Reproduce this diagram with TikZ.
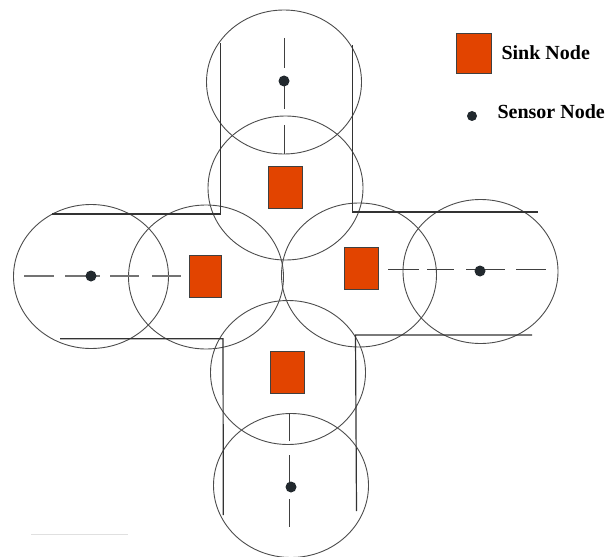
\documentclass[tikz,border=0pt]{standalone}
\usepackage{fontspec}
\setmainfont{Liberation Serif}
\newfontfamily\keyfont{Liberation Serif Bold}
\usepackage{tikz}
\usetikzlibrary{positioning}

\definecolor{sinkred}{RGB}{226,68,0}
\definecolor{dotgray}{RGB}{34,41,46}

\begin{document}
\begin{tikzpicture}[
    x=1pt, y=-1pt,
    % sink node: orange box
    sink/.style={
        rectangle,
        draw=black!75,
        fill=sinkred,
        minimum width=34pt,
        minimum height=42pt,
        inner sep=0pt},
    % sensor node: small dark dot
    sensor/.style={
        circle,
        fill=dotgray,
        minimum size=11pt,
        inner sep=0pt},
    % coverage of a node
    coverage/.style={draw=black!70, line width=0.9pt},
    wall/.style={draw=black!80, line width=1.2pt},
    axisline/.style={draw=black!75, line width=1pt},
    legend/.style={anchor=west, font=\fontsize{20}{24}\keyfont}]
  \useasboundingbox (0,0) rectangle (609,556);

  %coverage
  \draw[coverage] (284,82) ellipse [x radius=77.5, y radius=72];
  \draw[coverage] (285.5,188) ellipse [x radius=77.5, y radius=72];
  \draw[coverage] (91,276.5) ellipse [x radius=77.5, y radius=72];
  \draw[coverage] (206,277) ellipse [x radius=77.5, y radius=72];
  \draw[coverage] (359,275) ellipse [x radius=77.5, y radius=72];
  \draw[coverage] (480.5,271.5) ellipse [x radius=77.5, y radius=72];
  \draw[coverage] (288,372.5) ellipse [x radius=77.5, y radius=72];
  \draw[coverage] (291,485.5) ellipse [x radius=77.5, y radius=72];

  %walls
  \draw[wall] (220.6,43) -- (220.6,214) -- (52,214);
  \draw[wall] (352.6,45) -- (352.6,212) -- (538,212);
  \draw[wall] (60,338.7) -- (223,338.7) -- (223.3,515);
  \draw[wall] (532,335) -- (355.5,335) -- (356.5,511);

  %axes through the sensors
  \foreach \a/\b in {38/68, 86/109, 125/154}
    \draw[axisline] (284,\a) -- (284,\b);
  \foreach \a/\b in {24/54, 65/100, 110/139, 152/181}
    \draw[axisline, black!55, line width=1.6pt] (\a,276) -- (\b,276);
  \foreach \a/\b in {388/419, 427/454, 466/505, 516/546}
    \draw[axisline] (\a,269) -- (\b,269);
  \foreach \a/\b in {413/441, 455/482, 499/527}
    \draw[axisline] (289,\a) -- (289,\b);

  %sink nodes
  \node (sinkT) [sink] at (285.5,187.5) {};
  \node (sinkL) [sink, minimum width=32pt] at (205,276) {};
  \node (sinkR) [sink] at (361,268) {};
  \node (sinkB) [sink] at (287.6,372) {};

  %sensor nodes
  \node (senT) [sensor] at (284,81) {};
  \node (senL) [sensor] at (91,276) {};
  \node (senR) [sensor] at (480,271) {};
  \node (senB) [sensor] at (291,487) {};

  %legend
  \node (keySink) [sink, minimum width=35pt, minimum height=40pt] at (473.5,53.5) {};
  \node (txtSink) [legend] at (498,53) {Sink Node};
  \node (keySensor) [sensor, minimum size=10pt] at (472,116) {};
  \node (txtSensor) [legend] at (494,112) {Sensor Node};

  \draw[black!12, line width=1pt] (31,534) -- (128,534);
\end{tikzpicture}
\end{document}
